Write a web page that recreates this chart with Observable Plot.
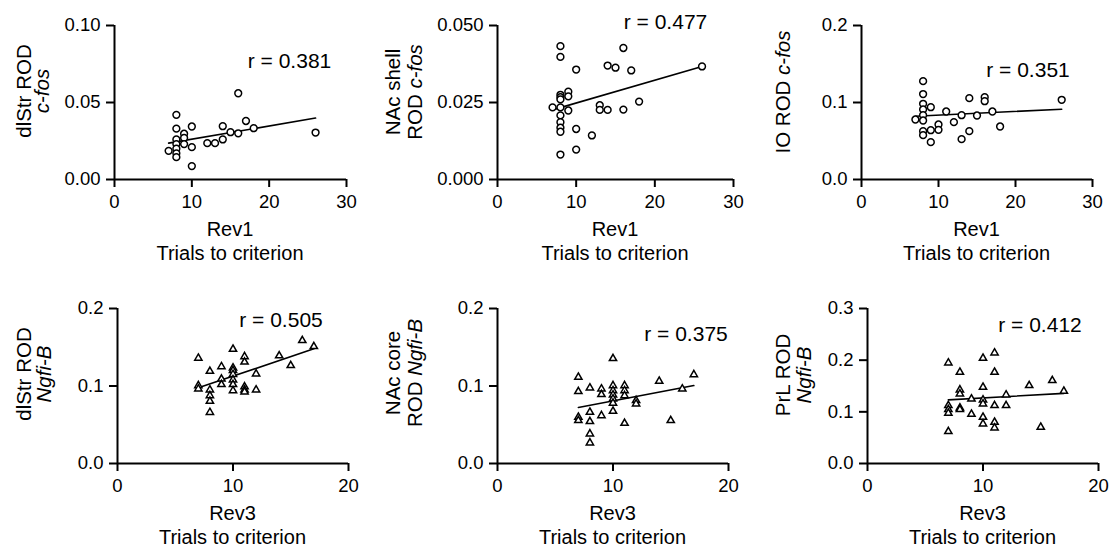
<!DOCTYPE html>
<html><head><meta charset="utf-8">
<script src="https://cdn.jsdelivr.net/npm/d3@7"></script>
<script src="https://cdn.jsdelivr.net/npm/@observablehq/plot@0.6"></script>
<style>
html,body{margin:0;padding:0;background:#fff}
#chart{position:relative;width:1109px;height:546px;font-family:"Liberation Sans",Arial,Helvetica,sans-serif}
#chart svg{position:absolute;left:0;top:0;overflow:visible;background:transparent}
</style>
</head><body><div id="chart"></div>
<script>
// ---- data ----
const rev1Ticks = [0, 10, 20, 30];
const rev3Ticks = [0, 10, 20];
const tickLabelsY1 = [0, 0.05, 0.10];
const tickLabelsY2 = [0, 0.025, 0.05];
const tickLabelsY3 = [0, 0.1, 0.2];
const tickLabelsY6 = [0, 0.1, 0.2, 0.3];

const dlStrFosX = [7,8,8,8,8,8,8,8,9,9,9,10,10,10,12,13,14,14,15,16,16,17,18,26];
const dlStrFosY = [0.0186,0.042,0.033,0.026,0.023,0.020,0.017,0.0145,0.0297,0.027,0.023,0.0344,0.021,0.0087,0.0236,0.0236,0.0346,0.026,0.0307,0.056,0.030,0.038,0.0333,0.0305];
const dlStrFosFitX = [7, 26];
const dlStrFosFitY = [0.0236, 0.0399];

const shellFosX = [7,8,8,8,8,8,8,8,8,8,8,8,9,9,9,10,10,10,12,13,13,14,14,15,16,16,17,18,26];
const shellFosY = [0.0234,0.0433,0.0398,0.0275,0.0267,0.026,0.0234,0.0208,0.0186,0.0168,0.0155,0.0081,0.0285,0.027,0.0224,0.0357,0.0164,0.0097,0.0143,0.0241,0.0226,0.037,0.0226,0.0363,0.0427,0.0227,0.0354,0.0253,0.0367];
const shellFosFitX = [7, 26];
const shellFosFitY = [0.0226, 0.0367];

const ioFosX = [7,8,8,8,8,8,8,8,8,9,9,9,10,10,11,12,13,13,14,14,15,16,16,17,18,26];
const ioFosY = [0.0779,0.1277,0.111,0.0983,0.0909,0.0835,0.0766,0.0628,0.0576,0.0939,0.064,0.0485,0.0714,0.0645,0.0883,0.0745,0.0835,0.0524,0.1056,0.0628,0.0831,0.1069,0.1017,0.0883,0.0688,0.1035];
const ioFosFitX = [7, 26];
const ioFosFitY = [0.0822, 0.0913];

const dlStrNgfiX = [7,7,7,8,8,8,8,8,9,9,9,10,10,10,10,10,10,10,11,11,11,11,11,12,12,14,15,16,17];
const dlStrNgfiY = [0.136,0.1006,0.0963,0.119,0.095,0.0877,0.0804,0.066,0.125,0.109,0.102,0.1475,0.1234,0.12,0.115,0.108,0.102,0.094,0.138,0.131,0.099,0.095,0.0925,0.1157,0.095,0.139,0.1265,0.1587,0.151];
const dlStrNgfiFitX = [7, 17];
const dlStrNgfiFitY = [0.0976, 0.148];

const coreNgfiX = [7,7,7,7,8,8,8,8,8,9,9,9,10,10,10,10,10,10,10,11,11,11,11,12,12,14,15,16,17];
const coreNgfiY = [0.1114,0.0929,0.0598,0.0555,0.0976,0.0662,0.0542,0.0383,0.0267,0.0963,0.089,0.0619,0.1355,0.1006,0.094,0.0886,0.0834,0.078,0.0675,0.1006,0.094,0.0877,0.052,0.0813,0.077,0.1062,0.0555,0.0963,0.1148];
const coreNgfiFitX = [7, 17];
const coreNgfiFitY = [0.0723, 0.1006];

const prlNgfiX = [7,7,7,7,7,8,8,8,8,8,9,9,10,10,10,10,10,10,11,11,11,11,11,12,12,14,15,16,17];
const prlNgfiY = [0.1948,0.1123,0.1045,0.0974,0.0619,0.1768,0.1426,0.1348,0.1077,0.1045,0.125,0.0955,0.2039,0.1477,0.1232,0.1155,0.0897,0.0768,0.2142,0.1768,0.1123,0.08,0.069,0.1329,0.1123,0.151,0.0703,0.1606,0.14];
const prlNgfiFitX = [7, 17];
const prlNgfiFitY = [0.1232, 0.1357];

const rLabels = ["r = 0.381", "r = 0.477", "r = 0.351", "r = 0.505", "r = 0.375", "r = 0.412"];
const xLabels = ["Rev1", "Rev1", "Rev1", "Rev3", "Rev3", "Rev3"];
const xSubLabel = "Trials to criterion";
const yLabels = [
  [[["dlStr ROD", false]], [["c-fos", true]]],
  [[["NAc shell", false]], [["ROD ", false], ["c-fos", true]]],
  [[["IO ROD ", false], ["c-fos", true]]],
  [[["dlStr ROD", false]], [["Ngfi-B", true]]],
  [[["NAc core", false]], [["ROD ", false], ["Ngfi-B", true]]],
  [[["PrL ROD", false]], [["Ngfi-B", true]]]
];

// ---- layout (pixel frames) ----
const W = 1109, H = 546;
const panels = [
  {x: dlStrFosX, y: dlStrFosY, fx: dlStrFosFitX, fy: dlStrFosFitY, xd: [0,30], xt: rev1Ticks, yd: [0,0.1], yt: tickLabelsY1, yf: ".2f", sym: "circle",
   f: {l:114, r:346, t:25, b:179}, rp: [289, 61], yl: [31, 49], ylc: 91},
  {x: shellFosX, y: shellFosY, fx: shellFosFitX, fy: shellFosFitY, xd: [0,30], xt: rev1Ticks, yd: [0,0.05], yt: tickLabelsY2, yf: ".3f", sym: "circle",
   f: {l:497, r:733, t:25, b:179}, rp: [665, 21.5], yl: [400, 422], ylc: 92},
  {x: ioFosX, y: ioFosY, fx: ioFosFitX, fy: ioFosFitY, xd: [0,30], xt: rev1Ticks, yd: [0,0.2], yt: tickLabelsY3, yf: ".1f", sym: "circle",
   f: {l:861, r:1092, t:25, b:179}, rp: [1027.5, 70], yl: [790], ylc: 92},
  {x: dlStrNgfiX, y: dlStrNgfiY, fx: dlStrNgfiFitX, fy: dlStrNgfiFitY, xd: [0,20], xt: rev3Ticks, yd: [0,0.2], yt: tickLabelsY3, yf: ".1f", sym: "triangle",
   f: {l:117, r:348, t:308, b:463}, rp: [280.5, 319.5], yl: [31, 51], ylc: 374},
  {x: coreNgfiX, y: coreNgfiY, fx: coreNgfiFitX, fy: coreNgfiFitY, xd: [0,20], xt: rev3Ticks, yd: [0,0.2], yt: tickLabelsY3, yf: ".1f", sym: "triangle",
   f: {l:497, r:728, t:308, b:463}, rp: [685.5, 333.5], yl: [400, 422], ylc: 373},
  {x: prlNgfiX, y: prlNgfiY, fx: prlNgfiFitX, fy: prlNgfiFitY, xd: [0,20], xt: rev3Ticks, yd: [0,0.3], yt: tickLabelsY6, yf: ".1f", sym: "triangle",
   f: {l:867, r:1098, t:308, b:463}, rp: [1039.5, 324.5], yl: [790, 811], ylc: 375}
];

const chart = document.getElementById("chart");
const FONT = '"Liberation Sans", Arial, Helvetica, sans-serif';

panels.forEach((p, i) => {
  const pts = p.x.map((v, k) => ({x: v, y: p.y[k]}));
  const fit = p.fx.map((v, k) => ({x: v, y: p.fy[k]}));
  const svg = Plot.plot({
    width: W, height: H,
    marginLeft: p.f.l, marginRight: W - p.f.r, marginTop: p.f.t, marginBottom: H - p.f.b,
    style: {fontFamily: FONT, background: "transparent", color: "black", overflow: "visible"},
    x: {domain: p.xd, axis: null},
    y: {domain: p.yd, axis: null},
    symbol: {type: "identity"},
    marks: [
      Plot.axisX({ticks: p.xt, tickSize: 8, tickPadding: 7, strokeWidth: 2, fontSize: 18.5, tickFormat: "d", label: null}),
      Plot.axisY({ticks: p.yt, tickSize: 8, tickPadding: 6, strokeWidth: 2, fontSize: 18.5, tickFormat: d3.format(p.yf), label: null}),
      Plot.ruleX([p.xd[0]], {stroke: "black", strokeWidth: 2}),
      Plot.ruleY([p.yd[0]], {stroke: "black", strokeWidth: 2}),
      Plot.line(fit, {x: "x", y: "y", stroke: "black", strokeWidth: 1.6}),
      Plot.dot(pts, {x: "x", y: "y", symbol: () => p.sym, r: p.sym === "circle" ? 3.4 : 2.7, stroke: "black", fill: "white", strokeWidth: 1.5}),
      Plot.text([rLabels[i]], {frameAnchor: "top-left", dx: p.rp[0] - p.f.l, dy: p.rp[1] - p.f.t, textAnchor: "middle", lineAnchor: "middle", fontSize: 21, fill: "black"})
    ]
  });
  const s = d3.select(svg);
  // x axis labels
  const cx = (p.f.l + p.f.r) / 2;
  s.append("text").attr("x", cx).attr("y", p.f.b + 57).attr("text-anchor", "middle")
    .attr("font-size", 20).attr("font-family", FONT).attr("fill", "black").text(xLabels[i]);
  s.append("text").attr("x", cx).attr("y", p.f.b + 81).attr("text-anchor", "middle")
    .attr("font-size", 20).attr("font-family", FONT).attr("fill", "black").text(xSubLabel);
  // y axis labels (rotated, possibly two lines, mixed italic)
  yLabels[i].forEach((line, j) => {
    const t = s.append("text")
      .attr("transform", `translate(${p.yl[j]},${p.ylc}) rotate(-90)`)
      .attr("text-anchor", "middle").attr("font-size", 20.5).attr("font-family", FONT).attr("fill", "black");
    line.forEach(([txt, it]) => {
      t.append("tspan").attr("font-style", it ? "italic" : "normal").text(txt);
    });
  });
  chart.appendChild(svg);
});
</script>
</body></html>
